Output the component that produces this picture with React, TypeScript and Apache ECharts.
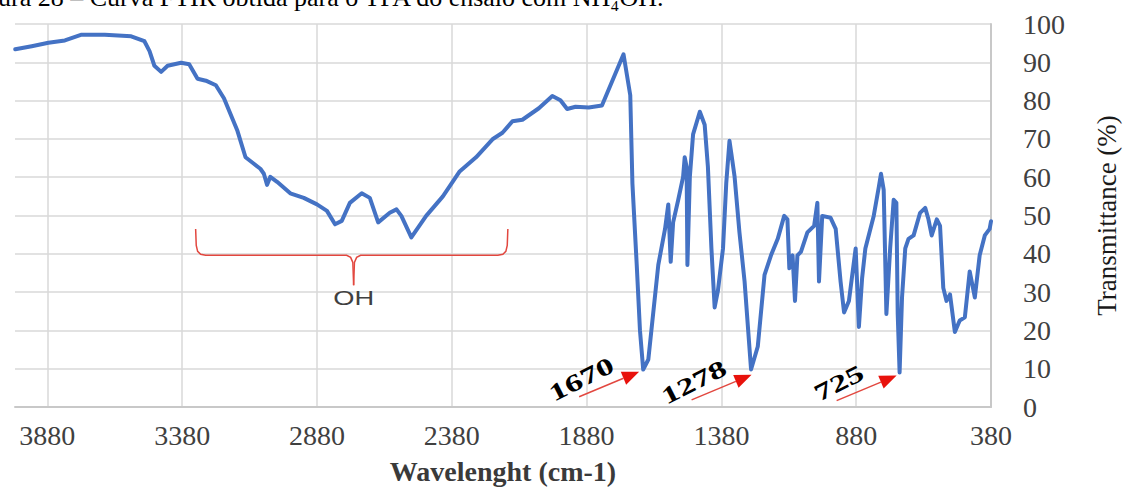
import React, { useEffect, useRef } from "react";
import * as echarts from "echarts";

// ---- data ----
const wavenumbers = [
  3999, 3938, 3876, 3815, 3753, 3667, 3569, 3520, 3501, 3483, 3458, 3434, 3384, 3354, 3323, 3292,
  3255, 3225, 3175, 3145, 3114, 3090, 3077, 3065, 3053, 3028, 2979, 2929, 2880, 2843, 2813, 2788,
  2758, 2714, 2684, 2653, 2610, 2585, 2567, 2530, 2475, 2413, 2352, 2290, 2229, 2192, 2155, 2118,
  2057, 2007, 1977, 1952, 1921, 1872, 1823, 1743, 1718, 1710, 1694, 1682, 1670, 1651, 1614, 1589,
  1577, 1568, 1559, 1540, 1522, 1516, 1509, 1506, 1497, 1485, 1460, 1442, 1430, 1417, 1405, 1393,
  1374, 1362, 1350, 1343, 1331, 1313, 1294, 1270, 1245, 1220, 1196, 1171, 1147, 1135, 1128, 1116,
  1107, 1098, 1085, 1061, 1036, 1024, 1018, 1006, 975, 956, 938, 925, 907, 882, 870, 858,
  846, 815, 796, 788, 778, 768, 754, 741, 731, 726, 719, 710, 698, 686, 667, 643,
  624, 612, 600, 581, 569, 557, 545, 532, 514, 496, 477, 459, 440, 422, 403, 385,
  380,
];
const transmittance = [
  93.4, 94.2, 95.1, 95.7, 97.2, 97.2, 96.8, 95.5, 92.9, 89.1, 87.5, 89.1, 89.9, 89.5, 85.7, 85.2,
  84.0, 80.6, 72.1, 65.2, 63.5, 62.2, 60.9, 58.0, 60.1, 58.8, 55.8, 54.6, 52.9, 51.2, 47.7, 48.6,
  53.3, 55.8, 54.6, 48.2, 50.7, 51.6, 49.9, 44.3, 49.9, 55.0, 61.4, 65.2, 69.9, 71.6, 74.6, 75.0,
  78.0, 81.2, 80.1, 77.8, 78.4, 78.2, 78.7, 92.1, 81.4, 58.4, 37.1, 20.0, 9.8, 12.4, 37.1, 46.5,
  52.9, 37.9, 48.2, 54.1, 60.1, 65.2, 62.7, 37.1, 60.1, 71.2, 77.1, 73.7, 62.7, 41.4, 26.0, 30.3,
  41.4, 58.4, 69.5, 66.1, 60.1, 45.6, 32.8, 9.8, 15.8, 34.5, 39.6, 43.9, 49.9, 49.0, 36.2, 39.6,
  27.7, 39.6, 40.5, 45.6, 47.3, 53.3, 32.8, 49.9, 49.4, 46.5, 32.8, 24.7, 27.7, 41.4, 20.9, 33.7,
  41.4, 49.9, 57.5, 60.9, 56.7, 24.3, 41.4, 54.1, 53.3, 24.3, 9.0, 28.6, 41.4, 43.9, 44.8, 50.7,
  52.0, 49.0, 44.8, 49.0, 47.3, 31.1, 27.7, 29.4, 19.6, 22.6, 23.4, 35.4, 28.6, 39.6, 44.8, 46.5,
  48.5,
];

const xMin = 380;
const xMax = 4000;
const xInterval = 500; // ticks: 380, 880, ..., 3880
const yTicks = [0, 10, 20, 30, 40, 50, 60, 70, 80, 90, 100];

const titleText = "ura 28 – Curva FTIR obtida para o TPA do ensaio com NH₄OH.";
const xAxisTitle = "Wavelenght (cm-1)";
const yAxisTitle = "Transmittance (%)";

// peak annotations (arrow tip in data coordinates)
const peakLabels = ["1670", "1278", "725"];
const peakTipWavenumber = [1685, 1268, 730];
const peakTipTransmittance = [9.2, 8.4, 8.2];

// OH band brace (data coordinates)
const bandLabel = "OH";
const bandStart = 3330;
const bandEnd = 2172;
const bandCenter = 2744;
const bandEndT = 46.5;
const bandLineT = 39.6;
const bandTipT = 31.8;
const bandLabelT = 28.6;

export default function App() {
  const ref = useRef<HTMLDivElement>(null);

  useEffect(() => {
    const chart = echarts.init(ref.current!, null, { renderer: "svg" });
    const serif = "'Liberation Serif', 'Times New Roman', serif";
    const sans = "'Liberation Sans', Arial, sans-serif";

    chart.setOption({
      animation: false,
      backgroundColor: "#ffffff",
      grid: { left: 15, right: 129, top: 24, bottom: 75, containLabel: false },
      xAxis: {
        type: "value",
        min: xMin,
        max: xMax,
        interval: xInterval,
        inverse: true,
        name: xAxisTitle,
        nameLocation: "middle",
        nameGap: 50,
        nameTextStyle: { fontFamily: serif, fontSize: 28, fontWeight: "bold", color: "#3a3a3a" },
        axisLine: { show: true, lineStyle: { color: "#c8c8c8", width: 2 } },
        axisTick: { show: false },
        axisLabel: {
          fontFamily: serif,
          fontSize: 28,
          color: "#404040",
          margin: 14,
          showMaxLabel: false,
          formatter: (v: number) => String(v),
        },
        splitLine: {
          show: true,
          showMaxLine: false,
          lineStyle: { color: "#d9d9d9", width: 1.5 },
        },
      },
      yAxis: {
        type: "value",
        position: "right",
        min: yTicks[0],
        max: yTicks[yTicks.length - 1],
        interval: yTicks[1] - yTicks[0],
        name: yAxisTitle,
        nameLocation: "middle",
        nameRotate: 90,
        nameGap: 102,
        nameTextStyle: { fontFamily: serif, fontSize: 27, color: "#1a1a1a" },
        axisLine: { show: true, lineStyle: { color: "#c8c8c8", width: 2 } },
        axisTick: { show: false },
        axisLabel: {
          fontFamily: serif,
          fontSize: 28,
          color: "#404040",
          margin: 32,
          formatter: (v: number) => String(v),
        },
        splitLine: { show: true, lineStyle: { color: "#d9d9d9", width: 1.5 } },
      },
      series: [
        {
          type: "line",
          data: wavenumbers.map((w, i) => [w, transmittance[i]]),
          showSymbol: false,
          lineStyle: { color: "#4472C4", width: 4, join: "round", cap: "round" },
          itemStyle: { color: "#4472C4" },
          z: 3,
        },
      ],
    });

    const px = (w: number, t: number) =>
      chart.convertToPixel({ gridIndex: 0 }, [w, t]) as number[];

    const red = "#e2473f";
    const graphics: any[] = [];

    // title (cut at top, as in the reference)
    graphics.push({
      type: "text",
      x: -2,
      y: 10,
      style: {
        text: titleText,
        x: 0,
        y: 0,
        fontFamily: serif,
        fontSize: 26,
        fill: "#000000",
        align: "left",
        textAlign: "left",
        verticalAlign: "bottom",
        textVerticalAlign: "bottom",
      },
      z: 10,
    });

    // OH brace
    const [xL, yTop] = px(bandStart, bandEndT);
    const [xR] = px(bandEnd, bandEndT);
    const [xC, yLine] = px(bandCenter, bandLineT);
    const yBot = px(bandCenter, bandTipT)[1];
    graphics.push({
      type: "polyline",
      shape: {
        points: [
          [xL, yTop],
          [xL + 0.6, yLine - 10],
          [xL + 2, yLine - 4],
          [xL + 5, yLine - 1],
          [xL + 10, yLine],
          [xC - 7, yLine],
          [xC - 3, yLine + 2],
          [xC - 0.8, yLine + 7],
          [xC, yBot],
        ],
      },
      style: { stroke: red, lineWidth: 1.5, fill: null },
      z: 5,
    });
    graphics.push({
      type: "polyline",
      shape: {
        points: [
          [xR, yTop],
          [xR - 0.6, yLine - 10],
          [xR - 2, yLine - 4],
          [xR - 5, yLine - 1],
          [xR - 10, yLine],
          [xC + 7, yLine],
          [xC + 3, yLine + 2],
          [xC + 0.8, yLine + 7],
          [xC, yBot],
        ],
      },
      style: { stroke: red, lineWidth: 1.5, fill: null },
      z: 5,
    });
    const [ohX, ohY] = px(bandCenter, bandLabelT);
    graphics.push({
      type: "text",
      x: ohX,
      y: ohY,
      scaleX: 1.3,
      style: {
        text: bandLabel,
        x: 0,
        y: 0,
        fontFamily: sans,
        fontSize: 21,
        fill: "#404040",
        align: "center",
        textAlign: "center",
        verticalAlign: "middle",
        textVerticalAlign: "middle",
      },
      z: 6,
    });

    // peak arrows + labels
    peakLabels.forEach((label, i) => {
      const [tx, ty] = px(peakTipWavenumber[i], peakTipTransmittance[i]);
      const sx = tx - 60;
      const sy = ty + 25;
      const len = Math.hypot(tx - sx, ty - sy);
      const dx = (tx - sx) / len;
      const dy = (ty - sy) / len;
      const headL = 17;
      const headW = 7;
      const bx = tx - dx * headL;
      const by = ty - dy * headL;
      graphics.push({
        type: "line",
        shape: { x1: sx, y1: sy, x2: bx, y2: by },
        style: { stroke: red, lineWidth: 1.5 },
        z: 6,
      });
      graphics.push({
        type: "polygon",
        shape: {
          points: [
            [tx, ty],
            [bx - dy * headW, by + dx * headW],
            [bx + dy * headW, by - dx * headW],
          ],
        },
        style: { fill: "#e8120c", stroke: null },
        z: 6,
      });
      graphics.push({
        type: "text",
        x: tx - 58,
        y: ty + 7,
        rotation: (27 * Math.PI) / 180,
        scaleX: 1.45,
        style: {
          text: label,
          x: 0,
          y: 0,
          fontFamily: serif,
          fontSize: 24,
          fontWeight: "bold",
          fill: "#000000",
          align: "center",
          textAlign: "center",
          verticalAlign: "middle",
          textVerticalAlign: "middle",
        },
        z: 7,
      });
    });

    chart.setOption({ graphic: graphics });

    return () => chart.dispose();
  }, []);

  return (
    <div
      ref={ref}
      style={{ position: "fixed", left: 0, top: 0, width: 1128, height: 490, background: "#fff" }}
    />
  );
}
